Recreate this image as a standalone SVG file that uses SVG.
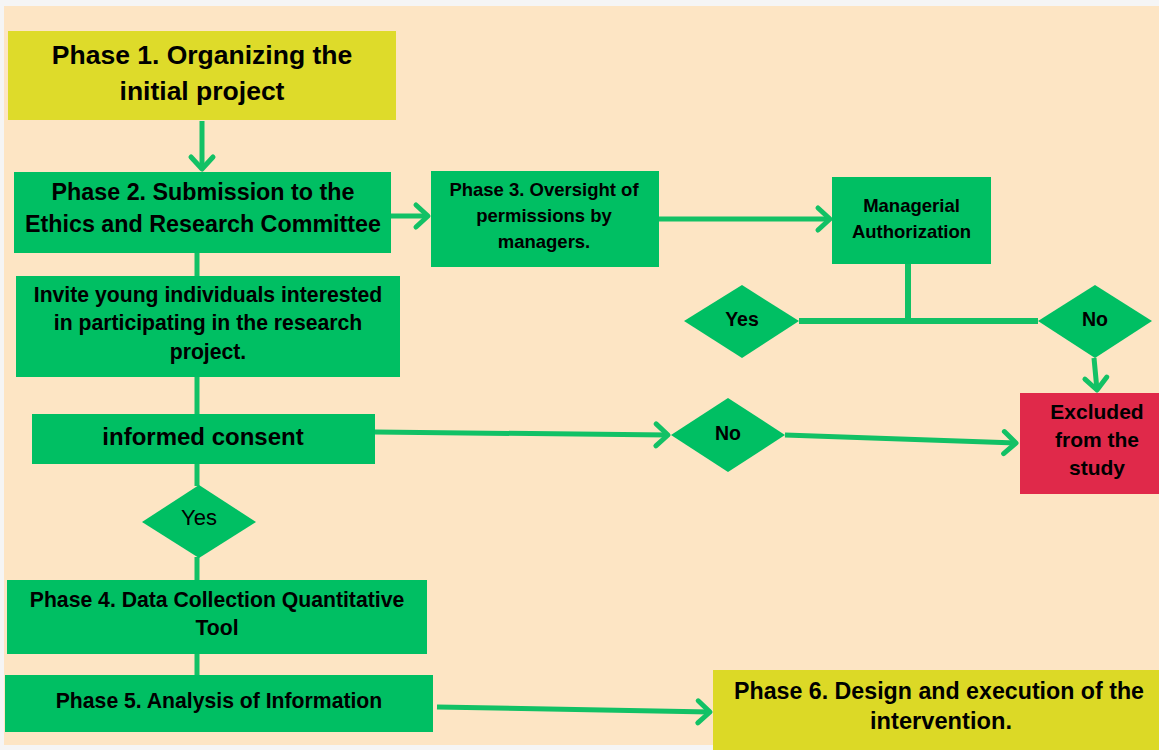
<svg xmlns="http://www.w3.org/2000/svg" width="1159" height="750" viewBox="0 0 1159 750">
<style>
.t{font-family:"Liberation Sans",Arial,sans-serif;font-weight:bold;fill:#000;text-anchor:middle}
.g{fill:#00bf63}
.y{fill:#dedb2a}
.c{stroke:#12c165;stroke-width:5;fill:none}
</style>
<defs>
<marker id="ah" markerUnits="userSpaceOnUse" markerWidth="40" markerHeight="40" refX="0" refY="0" orient="auto" overflow="visible">
<path d="M-12,-11 L0,0 L-12,11" fill="none" stroke="#12c165" stroke-width="5" stroke-linecap="round" stroke-linejoin="round"/>
</marker>
</defs>
<rect x="0" y="0" width="1159" height="750" fill="#f5f5f5"/>
<rect x="4" y="6" width="1155" height="739" fill="#fde5c4"/>
<g id="connectors">
<line class="c" x1="202" y1="121" x2="202" y2="169" marker-end="url(#ah)"/>
<line class="c" x1="391" y1="216" x2="428" y2="216" marker-end="url(#ah)"/>
<line class="c" x1="659" y1="219" x2="830" y2="219" marker-end="url(#ah)"/>
<line class="c" x1="908" y1="264" x2="908" y2="321" style="stroke-width:6"/>
<line class="c" x1="799" y1="321" x2="1038" y2="321" style="stroke-width:6"/>
<line class="c" x1="1094" y1="358" x2="1097" y2="390" marker-end="url(#ah)"/>
<line class="c" x1="197" y1="253" x2="197" y2="276"/>
<line class="c" x1="197" y1="377" x2="197" y2="414"/>
<line class="c" x1="375" y1="432" x2="668" y2="435" marker-end="url(#ah)"/>
<line class="c" x1="785" y1="435" x2="1016" y2="443" marker-end="url(#ah)"/>
<line class="c" x1="197" y1="464" x2="197" y2="486"/>
<line class="c" x1="197" y1="557" x2="197" y2="580"/>
<line class="c" x1="197" y1="654" x2="197" y2="675"/>
<line class="c" x1="437" y1="707" x2="710" y2="712" marker-end="url(#ah)"/>
</g>
<g id="phase1">
<rect class="y" x="8" y="31" width="388" height="89"/>
<text class="t" x="202" y="64" font-size="26.5">Phase 1. Organizing the</text>
<text class="t" x="202" y="100" font-size="26.5">initial project</text>
</g>
<g id="phase2">
<rect class="g" x="14" y="172" width="377" height="81"/>
<text class="t" x="203" y="200" font-size="23.3">Phase 2. Submission to the</text>
<text class="t" x="203" y="232" font-size="23.3">Ethics and Research Committee</text>
</g>
<g id="phase3">
<rect class="g" x="431" y="171" width="228" height="96"/>
<text class="t" x="544" y="196" font-size="18.5">Phase 3. Oversight of</text>
<text class="t" x="544" y="222" font-size="18.5">permissions by</text>
<text class="t" x="544" y="248" font-size="18.5">managers.</text>
</g>
<g id="managerial">
<rect class="g" x="832" y="177" width="159" height="87"/>
<text class="t" x="911.5" y="212" font-size="18.5">Managerial</text>
<text class="t" x="911.5" y="238" font-size="18.5">Authorization</text>
</g>
<g id="yes-manager">
<polygon class="g" points="684,321 742,285 799,321 742,358"/>
<text class="t" x="742" y="326" font-size="19.5">Yes</text>
</g>
<g id="no-manager">
<polygon class="g" points="1038,321 1095,285 1152,321 1095,358"/>
<text class="t" x="1095" y="326" font-size="19.5">No</text>
</g>
<g id="excluded">
<rect x="1020" y="393" width="139" height="101" fill="#e0294a"/>
<text class="t" x="1097" y="419" font-size="21">Excluded</text>
<text class="t" x="1097" y="447" font-size="21">from the</text>
<text class="t" x="1097" y="475" font-size="21">study</text>
</g>
<g id="invite">
<rect class="g" x="16" y="276" width="384" height="101"/>
<text class="t" x="208" y="302" font-size="21.2">Invite young individuals interested</text>
<text class="t" x="208" y="330" font-size="21.2">in participating in the research</text>
<text class="t" x="208" y="359" font-size="21.2">project.</text>
</g>
<g id="consent">
<rect class="g" x="32" y="414" width="343" height="50"/>
<text class="t" x="203" y="445" font-size="24">informed consent</text>
</g>
<g id="no-consent">
<polygon class="g" points="671,435 728,398 785,435 728,472"/>
<text class="t" x="728" y="440" font-size="19.5">No</text>
</g>
<g id="yes-consent">
<polygon class="g" points="142,522 199,485 256,522 199,558"/>
<text x="199" y="525" font-size="22" font-family="Liberation Sans, Arial, sans-serif" text-anchor="middle" fill="#000">Yes</text>
</g>
<g id="phase4">
<rect class="g" x="7" y="580" width="420" height="74"/>
<text class="t" x="217" y="607" font-size="21.2">Phase 4. Data Collection Quantitative</text>
<text class="t" x="217" y="635" font-size="21.2">Tool</text>
</g>
<g id="phase5">
<rect class="g" x="5" y="675" width="428" height="57"/>
<text class="t" x="219" y="708" font-size="21.2">Phase 5. Analysis of Information</text>
</g>
<g id="phase6">
<rect x="713" y="670" width="446" height="80" fill="#dcd926"/>
<text class="t" x="939" y="699" font-size="23.5" textLength="410" lengthAdjust="spacingAndGlyphs">Phase 6. Design and execution of the</text>
<text class="t" x="941" y="729" font-size="23.5" textLength="142" lengthAdjust="spacingAndGlyphs">intervention.</text>
</g>
</svg>
